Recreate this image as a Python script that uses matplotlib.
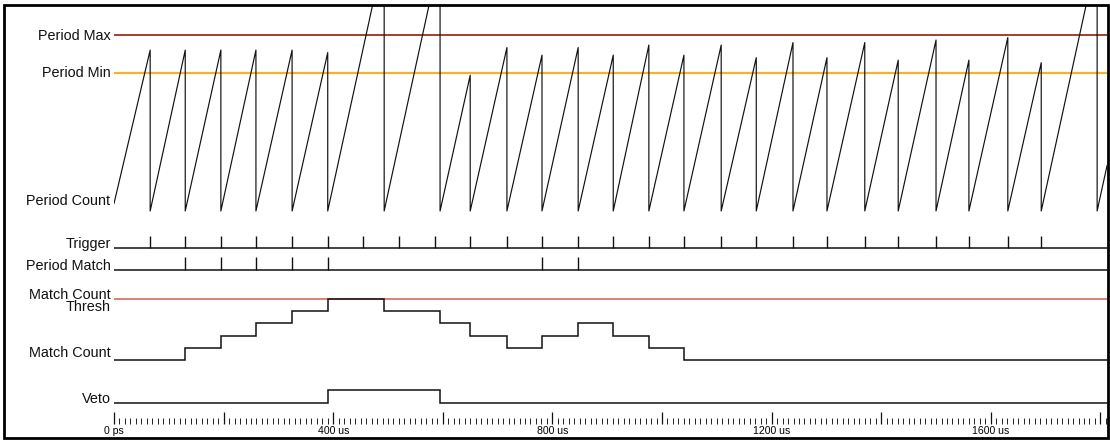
import matplotlib
matplotlib.use("Agg")
import matplotlib.pyplot as plt
from matplotlib.patches import Rectangle
from matplotlib.ticker import FixedLocator, MultipleLocator, FuncFormatter

plt.rcParams["font.family"] = ["Liberation Sans", "DejaVu Sans"]

# ---- waveform data (time in us) ----
T_END = 1812

period_max = 70
period_min = 55
count_start = 3
reset_times = [66, 130, 195, 259, 325, 390, 493, 595, 650, 717, 781, 847, 911,
               976, 1040, 1108, 1172, 1239, 1301, 1370, 1431, 1500, 1560, 1631,
               1692, 1794]
reset_peaks = [64, 64, 64, 64, 64, 63, 103, 102, 54, 65, 62, 65, 62,
               66, 62, 66, 61, 67, 61, 67, 60, 68, 60, 69,
               59, 102]
count_end = 18

trigger_times = [66, 130, 195, 259, 325, 390, 454, 520, 586, 650, 717, 781,
                 847, 911, 976, 1040, 1108, 1172, 1239, 1301, 1370, 1431,
                 1500, 1560, 1631, 1692]
period_match_times = [130, 195, 259, 325, 390, 781, 847]

match_count_times = [0, 130, 195, 259, 325, 390, 493, 595, 650, 717, 781,
                     847, 911, 976, 1040]
match_count_levels = [0, 1, 2, 3, 4, 5, 4, 3, 2, 1, 2, 3, 2, 1, 0]
match_count_thresh = 5

veto_times = [0, 390, 595]
veto_levels = [0, 1, 0]

axis_major = list(range(0, 1801, 200))
axis_labels = {0: "0 ps", 400: "400 us", 800: "800 us", 1200: "1200 us",
               1600: "1600 us"}

# ---- layout ----
W, H = 1110, 440
fig = plt.figure(figsize=(W / 100, H / 100), dpi=100)
X0, X1 = 114, 1107
LABEL_FS = 10.4
SIG = dict(color="#111111", lw=1.1, solid_joinstyle="miter")


def lane(px_lo, px_hi, v_lo, v_hi, top=None, bottom=None):
    k = (px_lo - px_hi) / (v_hi - v_lo)
    top = px_hi - 4 if top is None else top
    bottom = px_lo + 4 if bottom is None else bottom
    ymax = v_hi + (px_hi - top) / k
    ymin = v_lo - (bottom - px_lo) / k
    ax = fig.add_axes([X0 / W, 1 - bottom / H, (X1 - X0) / W, (bottom - top) / H])
    ax.set_xlim(0, T_END)
    ax.set_ylim(ymin, ymax)
    ax.axis("off")
    return ax


def label(ax, y, text, va="baseline", dy=0, **kw):
    ax.annotate(text, xy=(0, y), xycoords=("axes fraction", "data"),
                xytext=(-2.5, dy), textcoords="offset points",
                ha="right", va=va, fontsize=LABEL_FS, color="#111111",
                annotation_clip=False, multialignment="right", **kw)


# Period counter sawtooth
ax_pc = lane(211, 35, 0, period_max, top=5, bottom=214)
xs, ys = [0], [count_start]
for t, p in zip(reset_times, reset_peaks):
    xs += [t, t]
    ys += [p, 0]
xs.append(T_END)
ys.append(count_end)
ax_pc.axhline(period_max, color="#9a3020", lw=1.3)
ax_pc.axhline(period_min, color="#f9b12c", lw=1.6)
ax_pc.plot(xs, ys, color="#111111", lw=0.85)
label(ax_pc, period_max, "Period Max", va="center", dy=-1)
label(ax_pc, period_min, "Period Min", va="center")
label(ax_pc, count_start, "Period Count", va="center", dy=1.5)

# Trigger pulses
ax_tr = lane(248, 236, 0, 1)
ax_tr.axhline(0, **SIG)
ax_tr.vlines(trigger_times, 0, 1, color="#111111", lw=1.0)
label(ax_tr, 0, "Trigger")

# Period match pulses
ax_pm = lane(270, 257, 0, 1)
ax_pm.axhline(0, **SIG)
ax_pm.vlines(period_match_times, 0, 1, color="#111111", lw=1.0)
label(ax_pm, 0, "Period Match")

# Match count staircase and its threshold
ax_mc = lane(360, 299, 0, match_count_thresh)
ax_mc.axhline(match_count_thresh, color="#d9766c", lw=1.3)
ax_mc.step(match_count_times + [T_END], match_count_levels + [match_count_levels[-1]],
           where="post", **SIG)
label(ax_mc, match_count_thresh, "Match Count\nThresh", va="center", dy=-1.5,
      linespacing=0.88)
label(ax_mc, 0, "Match Count", dy=2.5)

# Veto
ax_v = lane(403, 390, 0, 1)
ax_v.step(veto_times + [T_END], veto_levels + [veto_levels[-1]], where="post", **SIG)
label(ax_v, 0, "Veto")

# Time axis
ax_t = fig.add_axes([X0 / W, 1 - 424 / H, (X1 - X0) / W, 12 / H])
ax_t.set_xlim(0, T_END)
ax_t.set_yticks([])
for s in ax_t.spines.values():
    s.set_visible(False)
ax_t.patch.set_alpha(0)
ax_t.xaxis.set_major_locator(FixedLocator(axis_major))
ax_t.xaxis.set_minor_locator(MultipleLocator(10))
ax_t.xaxis.set_major_formatter(FuncFormatter(lambda v, p: axis_labels.get(int(round(v)), "")))
ax_t.tick_params(axis="x", which="major", direction="in", length=8.5, width=0.9,
                 pad=1.2, labelsize=7.6, color="#111111")
ax_t.tick_params(axis="x", which="minor", direction="in", length=4.6, width=0.7,
                 color="#222222")

# Outer frame
fig.add_artist(Rectangle((4 / W, 1 - 438 / H), (1107.5 - 4) / W, (438 - 5) / H,
                         transform=fig.transFigure, fill=False, lw=2.0,
                         edgecolor="black"))

fig.savefig("out.png", dpi=100, facecolor="white")
